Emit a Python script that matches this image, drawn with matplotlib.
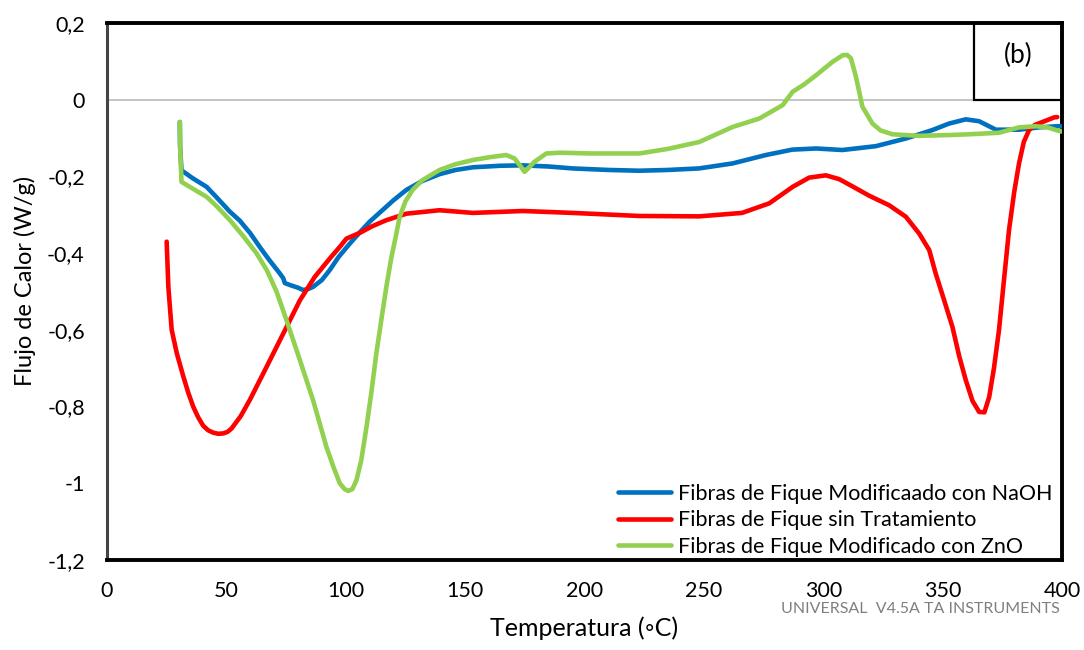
import matplotlib
matplotlib.use("Agg")
import matplotlib.pyplot as plt
from matplotlib.patches import Rectangle

plt.rcParams["font.family"] = ["Lato", "DejaVu Sans"]

# ── Data ──────────────────────────────────────────────────────────────────────
t_naoh = [30.5, 30.6, 31.2, 36, 41.7, 46, 51.5, 55.6, 60, 64, 68, 72.4, 73.8, 74.5,
          76.6, 80, 82.1, 84, 86.3, 90, 93.3, 97, 101.7, 106, 110, 115, 120, 125.4,
          132, 139.3, 146, 153.3, 165, 174.2, 185, 195, 210, 223, 235, 248, 262, 276,
          287, 297, 308, 322, 334.6, 345.7, 352.7, 359.7, 365.3, 372.3, 382, 390.4,
          398, 400]
q_naoh = [-0.058, -0.12, -0.184, -0.205, -0.227, -0.255, -0.292, -0.315, -0.348,
          -0.384, -0.418, -0.453, -0.465, -0.478, -0.483, -0.49, -0.496, -0.494,
          -0.488, -0.47, -0.444, -0.41, -0.375, -0.345, -0.318, -0.29, -0.262,
          -0.235, -0.212, -0.194, -0.183, -0.176, -0.172, -0.171, -0.174, -0.179,
          -0.183, -0.185, -0.183, -0.179, -0.166, -0.144, -0.13, -0.127, -0.131,
          -0.121, -0.101, -0.079, -0.062, -0.051, -0.056, -0.078, -0.078, -0.072,
          -0.069, -0.069]

t_raw = [25.0, 25.7, 27.1, 29.2, 31.9, 34, 36.1, 38.2, 40.3, 42.4, 44.5, 46.6, 48.7,
         50.5, 52.2, 56, 59.8, 66.8, 73.8, 80.8, 87, 93.3, 98, 100.3, 105.9, 111, 117,
         125.4, 139.3, 153.3, 174.2, 195, 223, 248, 266, 277.4, 287.2, 294.1, 301.1,
         306.7, 312, 319.2, 327.6, 334.6, 340.2, 344.4, 347.1, 350.5, 354.1, 357,
         359.7, 362.5, 365.3, 367.5, 369.5, 371.5, 373.6, 375.7, 377.8, 380, 382, 384,
         386.2, 388.5, 391.8, 396.7, 398]
q_raw = [-0.37, -0.488, -0.60, -0.66, -0.72, -0.763, -0.80, -0.828, -0.85, -0.862,
         -0.868, -0.871, -0.87, -0.866, -0.857, -0.825, -0.783, -0.697, -0.61, -0.523,
         -0.462, -0.414, -0.38, -0.362, -0.347, -0.33, -0.314, -0.297, -0.288, -0.295,
         -0.29, -0.295, -0.303, -0.304, -0.295, -0.27, -0.227, -0.203, -0.197, -0.207,
         -0.225, -0.25, -0.275, -0.305, -0.349, -0.392, -0.453, -0.52, -0.592, -0.67,
         -0.731, -0.785, -0.814, -0.815, -0.775, -0.70, -0.601, -0.47, -0.34, -0.24,
         -0.166, -0.11, -0.079, -0.066, -0.058, -0.046, -0.045]

t_zno = [30.5, 30.7, 31.2, 36, 41.7, 46, 51.5, 57, 62.6, 67, 71, 75.2, 80.8, 86.3,
         91.9, 95, 97.5, 99.5, 101, 102.8, 104.5, 106.5, 108.7, 110.8, 112.8, 115,
         117, 119, 121.2, 122.6, 125, 128, 132, 139.3, 146, 153.3, 160, 167.2, 170.7,
         172.8, 174.9, 177, 179, 184, 190, 202, 223, 235, 248.1, 262, 273.2, 283,
         287.2, 292, 297, 303.9, 308.1, 310, 311.6, 313.7, 316.4, 320.6, 324, 329,
         340.2, 352.7, 361, 373.6, 382, 389, 394, 398, 400]
q_zno = [-0.058, -0.13, -0.214, -0.232, -0.253, -0.278, -0.314, -0.355, -0.40,
         -0.445, -0.50, -0.575, -0.679, -0.783, -0.905, -0.96, -1.0, -1.015, -1.02,
         -1.015, -0.992, -0.94, -0.853, -0.76, -0.662, -0.57, -0.488, -0.415, -0.349,
         -0.305, -0.265, -0.235, -0.21, -0.183, -0.168, -0.157, -0.15, -0.144,
         -0.153, -0.17, -0.188, -0.175, -0.162, -0.14, -0.138, -0.14, -0.14, -0.128,
         -0.11, -0.071, -0.049, -0.014, 0.021, 0.04, 0.064, 0.099, 0.116, 0.117,
         0.108, 0.06, -0.018, -0.062, -0.08, -0.09, -0.094, -0.092, -0.09, -0.086,
         -0.072, -0.069, -0.072, -0.08, -0.083]

labels = ["Fibras de Fique Modificaado con NaOH",
          "Fibras de Fique sin Tratamiento",
          "Fibras de Fique Modificado con ZnO"]
colors = ["#0070C0", "#FF0000", "#92D050"]

x_ticks = [0, 50, 100, 150, 200, 250, 300, 350, 400]
y_ticks = [0.2, 0, -0.2, -0.4, -0.6, -0.8, -1.0, -1.2]
y_ticklabels = ["0,2", "0", "-0,2", "-0,4", "-0,6", "-0,8", "-1", "-1,2"]

# ── Plot ──────────────────────────────────────────────────────────────────────
fig = plt.figure(figsize=(10.84, 6.5), dpi=100)
ax = fig.add_axes([0.0987, 0.1385, 0.881, 0.826])

ax.axhline(0, xmin=0, xmax=363 / 400, color="#BFBFBF", linewidth=1.3, zorder=1)

for t, q, lab, c in zip([t_naoh, t_raw, t_zno], [q_naoh, q_raw, q_zno], labels, colors):
    ax.plot(t, q, color=c, linewidth=3.3, label=lab, solid_capstyle="round",
            solid_joinstyle="round", zorder=3)

ax.set_xlim(0, 400)
ax.set_ylim(-1.2, 0.2)
ax.set_xticks(x_ticks)
ax.set_yticks(y_ticks)
ax.set_yticklabels(y_ticklabels)
ax.tick_params(length=0, labelsize=15.5, colors="black")
ax.tick_params(axis="x", pad=15)
ax.tick_params(axis="y", pad=16)

for side in ["top", "bottom", "right"]:
    ax.spines[side].set_linewidth(2.8)
    ax.spines[side].set_color("black")
ax.spines["left"].set_linewidth(2.2)
ax.spines["left"].set_color("#444444")

ax.set_xlabel("Temperatura (\u25e6C)", fontsize=18)
ax.xaxis.set_label_coords(0.5, -0.106)
ax.set_ylabel("Flujo de Calor (W/g)", fontsize=17)
ax.yaxis.set_label_coords(-0.074, 0.52)

# panel tag box
ax.add_patch(Rectangle((363, 0), 37, 0.2, fill=False, edgecolor="black",
                       linewidth=1.6, zorder=4, clip_on=False))
ax.text(381.5, 0.115, "(b)", fontsize=19, ha="center", va="center")

leg = ax.legend(loc="lower right", bbox_to_anchor=(0.99, 0.006), frameon=False,
                fontsize=15.5, handlelength=2.45, handletextpad=0.33,
                labelspacing=0.3, borderpad=0, borderaxespad=0)

fig.text(1060 / 1084, 1 - 609 / 650, "UNIVERSAL  V4.5A TA INSTRUMENTS",
         color="#7F7F7F", fontsize=11.5, ha="right", va="center")

plt.savefig("out.png", dpi=100)
